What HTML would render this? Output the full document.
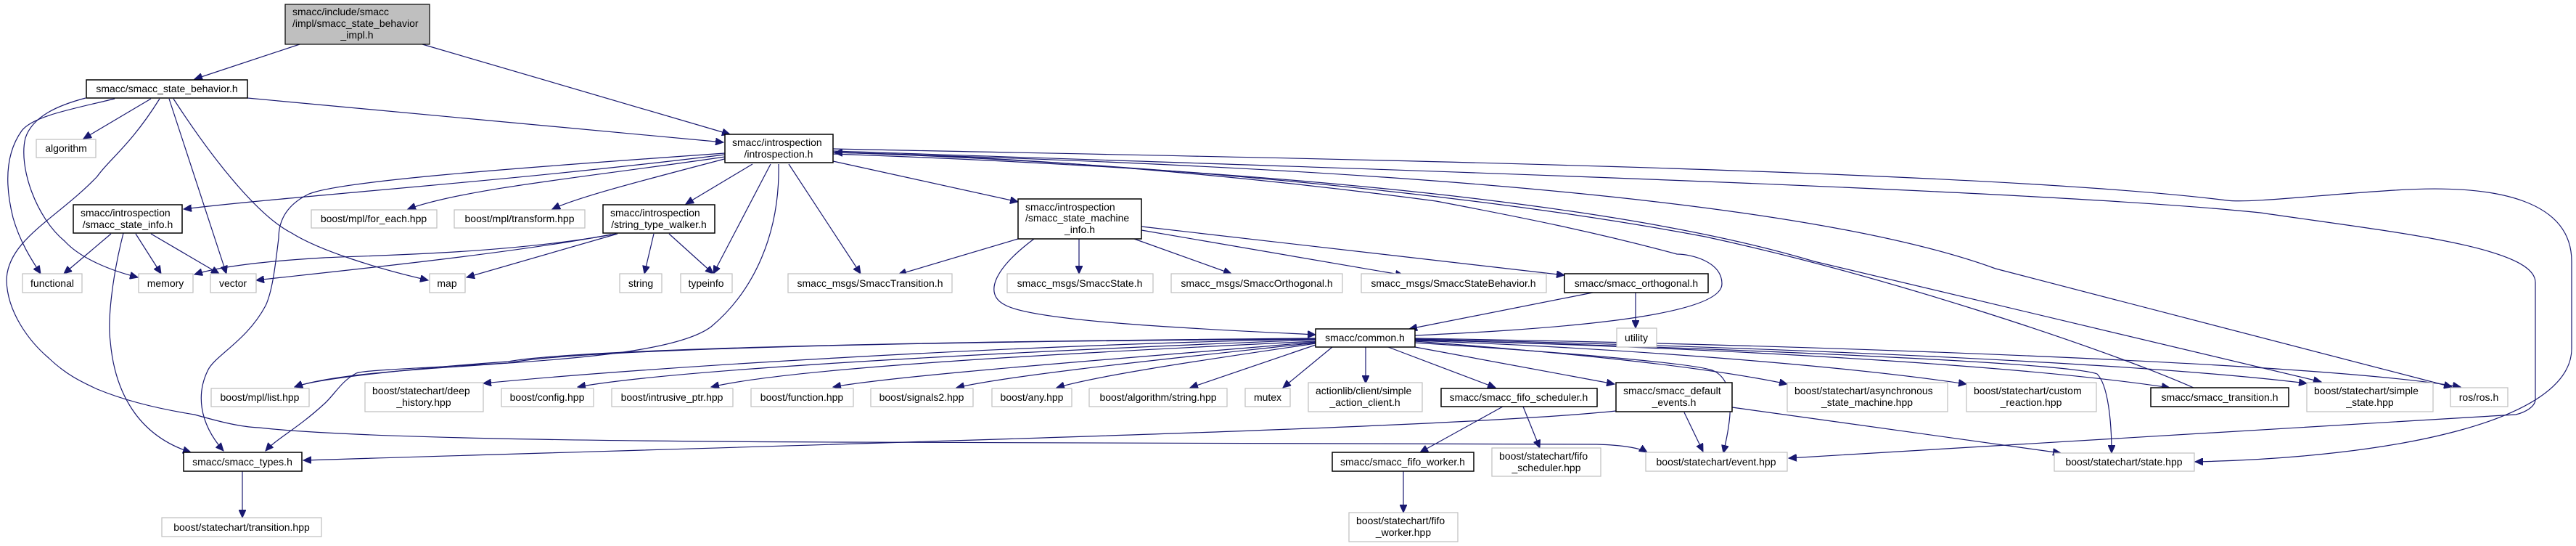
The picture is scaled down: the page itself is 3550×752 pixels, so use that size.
<!DOCTYPE html>
<html><head><meta charset="utf-8"><style>
html,body{margin:0;padding:0;background:#fff;}
svg{display:block;}
text{font-family:"Liberation Sans","DejaVu Sans",sans-serif;font-size:14px;fill:#000;}
.e{fill:none;stroke:#191970;stroke-width:1.2;}
.g{fill:#fff;stroke:#bfbfbf;stroke-width:1.2;}
.b{fill:#fff;stroke:#000;stroke-width:1.5;}
</style></head><body>
<svg width="3550" height="752" viewBox="0 0 3550 752" xmlns="http://www.w3.org/2000/svg">
<defs><marker id="a" markerUnits="userSpaceOnUse" markerWidth="12" markerHeight="10" refX="11" refY="5" orient="auto"><path d="M0,0 L11,5 L0,10 z" fill="#191970" stroke="#191970"/></marker></defs>
<g marker-end="url(#a)">
<path class="e" d="M413,61 L268,109"/>
<path class="e" d="M582,61 L1006,185"/>
<path class="e" d="M341,135 L997,196"/>
<path class="e" d="M208,136 L115,191"/>
<path class="e" d="M158,136 C100,150 45,160 30,180 C5,215 8,260 18,300 C28,335 45,360 56,377"/>
<path class="e" d="M118,135 C80,145 45,160 35,190 C25,230 50,300 89,332 C110,355 150,372 190,382"/>
<path class="e" d="M233,136 L312,377"/>
<path class="e" d="M239,136 C300,230 360,300 402,321 C440,345 520,370 590,386"/>
<path class="e" d="M220,136 C180,200 150,220 134,243 C80,300 10,330 9,386 C10,430 40,470 67,493 C90,515 110,525 134,536 C180,555 230,565 268,571 C300,580 330,588 357,589 C500,605 900,608 1160,609 L2200,612 C2240,613 2262,618 2270,623"/>
<path class="e" d="M999,213 C700,250 400,270 253,288"/>
<path class="e" d="M999,211 C700,232 460,250 424,268 C390,285 384,310 384,328 C380,360 376,400 366,421 C340,470 295,490 286,511 C272,540 272,580 308,621"/>
<path class="e" d="M999,216 C800,245 640,260 562,288"/>
<path class="e" d="M1002,218 C900,245 800,270 761,288"/>
<path class="e" d="M1037,226 L945,281"/>
<path class="e" d="M1062,226 L983,377"/>
<path class="e" d="M1073,226 C1075,320 1040,400 980,450 C900,510 520,495 406,533"/>
<path class="e" d="M1087,226 L1186,377"/>
<path class="e" d="M1148,222 L1403,278"/>
<path class="e" d="M1148,205 C1600,215 2700,230 3069,276 C3100,280 3200,268 3300,262 C3450,252 3544,280 3544,360 L3544,480 C3544,580 3300,630 3025,636"/>
<path class="e" d="M1148,208 C1800,230 2800,260 3115,293 C3300,320 3494,340 3494,389 L3494,550 C3494,560 3480,568 3467,571 L2465,631"/>
<path class="e" d="M1148,210 C1700,225 2450,260 2750,370 L3379,533"/>
<path class="e" d="M1148,212 C1650,230 2200,270 2500,360 L3199,526"/>
<path class="e" d="M3023,534 C2900,480 2600,380 2350,326 C2000,260 1500,220 1150,210"/>
<path class="e" d="M1950,462 C2100,455 2373,440 2373,391 C2373,360 2330,350 2311,350 C2200,320 2100,300 1979,277 C1700,240 1400,215 1150,210"/>
<path class="e" d="M153,322 L88,377"/>
<path class="e" d="M187,322 L222,377"/>
<path class="e" d="M208,322 L302,377"/>
<path class="e" d="M170,321 C155,380 148,440 152,470 C158,540 190,600 263,623"/>
<path class="e" d="M849,322 C700,350 500,352 446,355 C360,360 300,368 268,378"/>
<path class="e" d="M842,323 C700,350 450,375 353,386"/>
<path class="e" d="M851,322 L643,382"/>
<path class="e" d="M901,322 L888,377"/>
<path class="e" d="M922,322 L983,377"/>
<path class="e" d="M1403,329 L1238,378"/>
<path class="e" d="M1487,329 L1487,377"/>
<path class="e" d="M1563,329 L1697,377"/>
<path class="e" d="M1573,317 L1934,379"/>
<path class="e" d="M1573,312 L2156,379"/>
<path class="e" d="M1425,329 C1370,370 1355,405 1385,420 C1430,445 1700,455 1813,461"/>
<path class="e" d="M2195,403 L1942,453"/>
<path class="e" d="M2254,403 L2254,452"/>
<path class="e" d="M1813,466 C1300,470 800,480 700,498 C600,505 440,520 406,533"/>
<path class="e" d="M1813,467 C1400,475 900,505 666,528"/>
<path class="e" d="M1813,468 C1500,480 950,505 796,533"/>
<path class="e" d="M1813,470 C1500,485 1100,505 980,533"/>
<path class="e" d="M1813,471 C1600,490 1250,515 1148,533"/>
<path class="e" d="M1813,472 C1650,490 1400,515 1318,534"/>
<path class="e" d="M1813,473 C1700,490 1520,515 1456,534"/>
<path class="e" d="M1813,475 L1640,534"/>
<path class="e" d="M1836,478 L1768,534"/>
<path class="e" d="M1882,478 L1882,528"/>
<path class="e" d="M1913,478 L2061,534"/>
<path class="e" d="M1950,478 L2225,529"/>
<path class="e" d="M1813,467 C1300,470 800,480 700,500 C560,508 500,510 491,514 C470,525 460,545 446,557 C410,590 380,605 366,621"/>
<path class="e" d="M1950,470 C2150,485 2350,505 2463,529"/>
<path class="e" d="M1950,469 C2250,480 2550,505 2710,529"/>
<path class="e" d="M1950,468 C2400,480 2800,505 2990,534"/>
<path class="e" d="M1950,467 C2450,478 2950,500 3179,528"/>
<path class="e" d="M1950,466 C2500,475 3200,500 3391,533"/>
<path class="e" d="M1950,468 C2400,480 2850,500 2890,515 C2905,530 2910,580 2910,624"/>
<path class="e" d="M1950,472 C2150,485 2330,500 2360,510 C2395,525 2385,580 2375,624"/>
<path class="e" d="M2227,566 C2000,590 1200,610 418,634"/>
<path class="e" d="M2321,568 L2347,622"/>
<path class="e" d="M2387,561 L2840,624"/>
<path class="e" d="M2071,560 L1957,623"/>
<path class="e" d="M2099,560 L2122,617"/>
<path class="e" d="M1934,649 L1934,706"/>
<path class="e" d="M334,649 L334,713"/>
</g>
<g>
<rect x="393" y="6" width="199" height="55" fill="#bfbfbf" stroke="#000" stroke-width="1.2"/>
<text x="403" y="21">smacc/include/smacc</text><text x="403" y="37">/impl/smacc_state_behavior</text><text x="492" y="53" text-anchor="middle">_impl.h</text>

<rect class="b" x="119" y="110" width="222" height="25"/><text x="230" y="127" text-anchor="middle">smacc/smacc_state_behavior.h</text>
<rect class="g" x="50" y="192" width="82" height="25"/><text x="91" y="209" text-anchor="middle">algorithm</text>
<rect class="b" x="999" y="185" width="149" height="39"/><text x="1009" y="201">smacc/introspection</text><text x="1073" y="217" text-anchor="middle">/introspection.h</text>
<rect class="b" x="101" y="282" width="150" height="39"/><text x="111" y="298">smacc/introspection</text><text x="176" y="314" text-anchor="middle">/smacc_state_info.h</text>
<rect class="g" x="429" y="289" width="173" height="25"/><text x="515" y="306" text-anchor="middle">boost/mpl/for_each.hpp</text>
<rect class="g" x="626" y="289" width="180" height="25"/><text x="716" y="306" text-anchor="middle">boost/mpl/transform.hpp</text>
<rect class="b" x="831" y="282" width="154" height="39"/><text x="841" y="298">smacc/introspection</text><text x="908" y="314" text-anchor="middle">/string_type_walker.h</text>
<rect class="g" x="31" y="377" width="82" height="26"/><text x="72" y="395" text-anchor="middle">functional</text>
<rect class="g" x="191" y="377" width="75" height="26"/><text x="228" y="395" text-anchor="middle">memory</text>
<rect class="g" x="290" y="377" width="63" height="26"/><text x="321" y="395" text-anchor="middle">vector</text>
<rect class="g" x="592" y="377" width="49" height="26"/><text x="616" y="395" text-anchor="middle">map</text>
<rect class="g" x="854" y="377" width="58" height="26"/><text x="883" y="395" text-anchor="middle">string</text>
<rect class="g" x="938" y="377" width="71" height="26"/><text x="973" y="395" text-anchor="middle">typeinfo</text>
<rect class="g" x="1086" y="377" width="226" height="26"/><text x="1199" y="395" text-anchor="middle">smacc_msgs/SmaccTransition.h</text>
<rect class="b" x="1403" y="274" width="170" height="55"/><text x="1413" y="290">smacc/introspection</text><text x="1413" y="305">/smacc_state_machine</text><text x="1488" y="321" text-anchor="middle">_info.h</text>
<rect class="g" x="1388" y="377" width="201" height="26"/><text x="1488" y="395" text-anchor="middle">smacc_msgs/SmaccState.h</text>
<rect class="g" x="1614" y="377" width="236" height="26"/><text x="1732" y="395" text-anchor="middle">smacc_msgs/SmaccOrthogonal.h</text>
<rect class="g" x="1876" y="377" width="255" height="26"/><text x="2003" y="395" text-anchor="middle">smacc_msgs/SmaccStateBehavior.h</text>
<rect class="b" x="2156" y="377" width="198" height="26"/><text x="2255" y="395" text-anchor="middle">smacc/smacc_orthogonal.h</text>
<rect class="g" x="2228" y="452" width="55" height="26"/><text x="2255" y="470" text-anchor="middle">utility</text>
<rect class="b" x="1813" y="453" width="137" height="25"/><text x="1881" y="470" text-anchor="middle">smacc/common.h</text>

<rect class="g" x="291" y="535" width="135" height="25"/><text x="358" y="552" text-anchor="middle">boost/mpl/list.hpp</text>
<rect class="g" x="503" y="527" width="163" height="40"/><text x="513" y="543">boost/statechart/deep</text><text x="584" y="559" text-anchor="middle">_history.hpp</text>
<rect class="g" x="691" y="535" width="127" height="25"/><text x="754" y="552" text-anchor="middle">boost/config.hpp</text>
<rect class="g" x="843" y="535" width="167" height="25"/><text x="926" y="552" text-anchor="middle">boost/intrusive_ptr.hpp</text>
<rect class="g" x="1035" y="535" width="141" height="25"/><text x="1105" y="552" text-anchor="middle">boost/function.hpp</text>
<rect class="g" x="1200" y="535" width="141" height="25"/><text x="1270" y="552" text-anchor="middle">boost/signals2.hpp</text>
<rect class="g" x="1367" y="535" width="110" height="25"/><text x="1422" y="552" text-anchor="middle">boost/any.hpp</text>
<rect class="g" x="1501" y="535" width="190" height="25"/><text x="1596" y="552" text-anchor="middle">boost/algorithm/string.hpp</text>
<rect class="g" x="1716" y="535" width="62" height="25"/><text x="1747" y="552" text-anchor="middle">mutex</text>
<rect class="g" x="1803" y="527" width="157" height="40"/><text x="1813" y="543">actionlib/client/simple</text><text x="1881" y="559" text-anchor="middle">_action_client.h</text>
<rect class="b" x="1986" y="535" width="215" height="25"/><text x="2093" y="552" text-anchor="middle">smacc/smacc_fifo_scheduler.h</text>
<rect class="b" x="2227" y="527" width="160" height="40"/><text x="2237" y="543">smacc/smacc_default</text><text x="2307" y="559" text-anchor="middle">_events.h</text>
<rect class="g" x="2463" y="527" width="221" height="40"/><text x="2473" y="543">boost/statechart/asynchronous</text><text x="2573" y="559" text-anchor="middle">_state_machine.hpp</text>
<rect class="g" x="2710" y="527" width="179" height="40"/><text x="2720" y="543">boost/statechart/custom</text><text x="2799" y="559" text-anchor="middle">_reaction.hpp</text>
<rect class="b" x="2964" y="534" width="190" height="26"/><text x="3059" y="552" text-anchor="middle">smacc/smacc_transition.h</text>
<rect class="g" x="3179" y="527" width="174" height="40"/><text x="3189" y="543">boost/statechart/simple</text><text x="3266" y="559" text-anchor="middle">_state.hpp</text>
<rect class="g" x="3377" y="534" width="79" height="26"/><text x="3416" y="552" text-anchor="middle">ros/ros.h</text>

<rect class="b" x="253" y="623" width="163" height="26"/><text x="334" y="641" text-anchor="middle">smacc/smacc_types.h</text>
<rect class="b" x="1836" y="623" width="195" height="26"/><text x="1933" y="641" text-anchor="middle">smacc/smacc_fifo_worker.h</text>
<rect class="g" x="2056" y="617" width="150" height="39"/><text x="2066" y="633">boost/statechart/fifo</text><text x="2131" y="649" text-anchor="middle">_scheduler.hpp</text>
<rect class="g" x="2268" y="623" width="195" height="26"/><text x="2365" y="641" text-anchor="middle">boost/statechart/event.hpp</text>
<rect class="g" x="2831" y="624" width="193" height="25"/><text x="2927" y="641" text-anchor="middle">boost/statechart/state.hpp</text>
<rect class="g" x="223" y="713" width="220" height="26"/><text x="333" y="731" text-anchor="middle">boost/statechart/transition.hpp</text>
<rect class="g" x="1859" y="706" width="150" height="40"/><text x="1869" y="722">boost/statechart/fifo</text><text x="1934" y="738" text-anchor="middle">_worker.hpp</text>
</g>
</svg>
</body></html>
